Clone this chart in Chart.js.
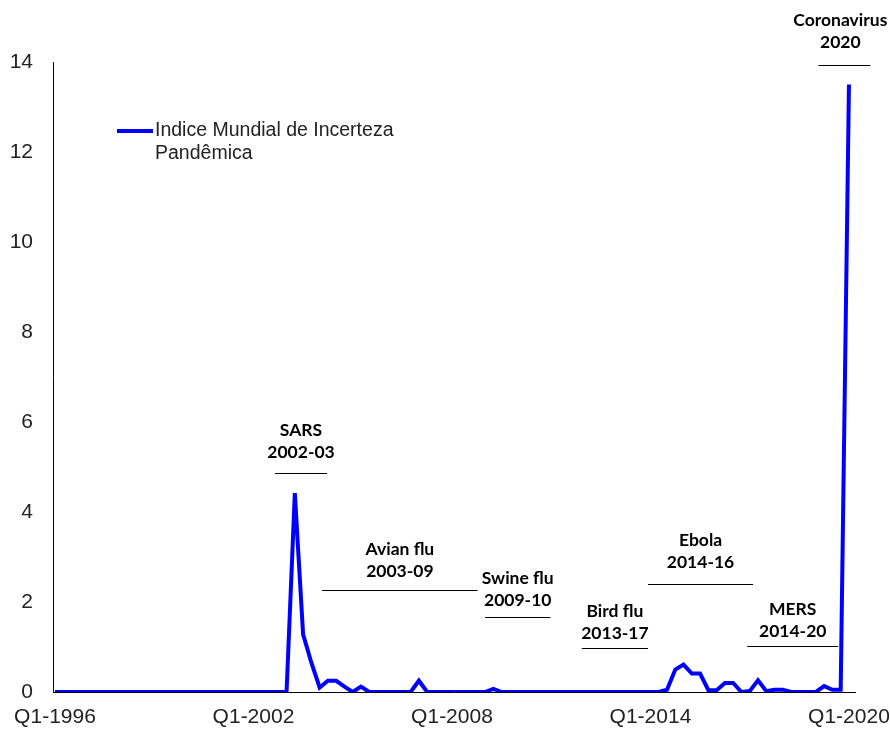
<!DOCTYPE html>
<html>
<head>
<meta charset="utf-8">
<script src="https://cdn.jsdelivr.net/npm/chart.js@4/dist/chart.umd.min.js"></script>
<style>
  html, body { margin: 0; padding: 0; background: #fff; }
  #wrap { width: 890px; height: 729px; }
</style>
</head>
<body>
<div id="wrap"><canvas id="myChart" width="890" height="729"></canvas></div>
<script>
// quarterly index, Q1-1996 .. Q1-2020
const firstYear = 1996;
const lastYear = 2020;
const seriesLabel = ['Indice Mundial de Incerteza', 'Pandêmica'];
const tickIndex = [0, 24, 48, 72, 96];
const tickLabels = ['Q1-1996', 'Q1-2002', 'Q1-2008', 'Q1-2014', 'Q1-2020'];
const yTicks = [0, 2, 4, 6, 8, 10, 12, 14];

const wpui = [
  0, 0, 0, 0, 0, 0, 0, 0, 0, 0, 0, 0, 0, 0, 0, 0,       // 1996-1999
  0, 0, 0, 0, 0, 0, 0, 0, 0, 0, 0, 0,                   // 2000-2002
  0, 4.42, 1.28, 0.65,                                  // 2003
  0.1, 0.25, 0.25, 0.12,                                // 2004
  0, 0.12, 0, 0,                                        // 2005
  0, 0, 0, 0,                                           // 2006
  0.25, 0, 0, 0,                                        // 2007
  0, 0, 0, 0,                                           // 2008
  0, 0.07, 0, 0,                                        // 2009
  0, 0, 0, 0, 0, 0, 0, 0, 0, 0, 0, 0,                   // 2010-2012
  0, 0, 0, 0,                                           // 2013
  0, 0, 0.05, 0.5,                                      // 2014
  0.61, 0.41, 0.41, 0.04,                               // 2015
  0.04, 0.2, 0.2, 0,                                    // 2016
  0.02, 0.26, 0.02, 0.05,                               // 2017
  0.05, 0, 0, 0,                                        // 2018
  0, 0.13, 0.05, 0.05,                                  // 2019
  13.5                                                  // 2020 Q1
];

// episode notes: text lines, x range of the rule (quarter index), y of rule and first text line (index units)
const episodes = [
  { text: ['SARS', '2002-03'], x0: 26.6, x1: 32.9, line: 4.87, top: 5.82 },
  { text: ['Avian flu', '2003-09'], x0: 32.3, x1: 51.1, line: 2.27, top: 3.18 },
  { text: ['Swine flu', '2009-10'], x0: 52.0, x1: 59.9, line: 1.67, top: 2.53 },
  { text: ['Bird flu', '2013-17'], x0: 63.7, x1: 71.7, line: 0.98, top: 1.8 },
  { text: ['Ebola', '2014-16'], x0: 71.7, x1: 84.4, line: 2.4, top: 3.36 },
  { text: ['MERS', '2014-20'], x0: 83.7, x1: 94.7, line: 1.02, top: 1.84 },
  { text: ['Coronavirus', '2020'], x0: 92.3, x1: 98.6, line: 13.93, top: 14.93, shift: -0.5 }
];

const quarters = [];
for (let y = firstYear; y <= lastYear; y++) {
  for (let q = 1; q <= 4; q++) quarters.push('Q' + q + '-' + y);
}
const points = wpui.map((v, i) => ({ x: i, y: v }));

const blue = '#0000ff';
const tickFont = { family: '"Liberation Sans", Arial', size: 21 };

const overlay = {
  id: 'overlay',
  afterDraw(chart) {
    const ctx = chart.ctx;
    const xs = chart.scales.x, ys = chart.scales.y;
    ctx.save();
    // episode notes
    ctx.textAlign = 'center';
    ctx.textBaseline = 'middle';
    ctx.fillStyle = '#000';
    ctx.font = 'bold 17.5px Lato';
    episodes.forEach(e => {
      const a = xs.getPixelForValue(e.x0), b = xs.getPixelForValue(e.x1);
      const ly = Math.round(ys.getPixelForValue(e.line)) + 0.5;
      const ty = ys.getPixelForValue(e.top);
      const cx = xs.getPixelForValue((e.x0 + e.x1) / 2 + (e.shift || 0));
      ctx.fillText(e.text[0], cx, ty);
      ctx.fillText(e.text[1], cx, ty + 22);
      ctx.strokeStyle = '#000';
      ctx.lineWidth = 1;
      ctx.beginPath();
      ctx.moveTo(a, ly);
      ctx.lineTo(b, ly);
      ctx.stroke();
    });
    // legend inside plot
    const lx = 117, lyy = 131;
    ctx.strokeStyle = blue;
    ctx.lineWidth = 4;
    ctx.beginPath();
    ctx.moveTo(lx, lyy);
    ctx.lineTo(lx + 36, lyy);
    ctx.stroke();
    ctx.textAlign = 'left';
    ctx.fillStyle = '#222';
    ctx.font = '19.5px "Liberation Sans", Arial';
    ctx.fillText(seriesLabel[0], lx + 38, lyy);
    ctx.fillText(seriesLabel[1], lx + 38, lyy + 23);
    ctx.restore();
  }
};

new Chart(document.getElementById('myChart').getContext('2d'), {
  type: 'line',
  data: {
    datasets: [{
      label: seriesLabel.join(' '),
      data: points,
      borderColor: blue,
      backgroundColor: blue,
      borderWidth: 4,
      pointRadius: 0,
      tension: 0,
      fill: false
    }]
  },
  options: {
    responsive: false,
    animation: false,
    layout: { padding: { left: 0, right: 35, top: 62, bottom: 0 } },
    plugins: { legend: { display: false }, tooltip: { enabled: false } },
    scales: {
      x: {
        type: 'linear',
        min: -0.24,
        max: 96.73,
        afterBuildTicks: s => { s.ticks = tickIndex.map(v => ({ value: v })); },
        afterFit: s => { s.height = 37; s.paddingLeft = 0; s.paddingRight = 0; },
        ticks: {
          autoSkip: false,
          maxRotation: 0,
          padding: 13,
          color: '#222',
          font: tickFont,
          callback: v => tickLabels[tickIndex.indexOf(v)]
        },
        grid: { display: false, drawTicks: false },
        border: { display: true, color: '#000', width: 1 }
      },
      y: {
        min: 0,
        max: 14,
        afterBuildTicks: s => { s.ticks = yTicks.map(v => ({ value: v })); },
        afterFit: s => { s.width = 53; s.paddingTop = 0; s.paddingBottom = 0; },
        ticks: {
          padding: 20,
          color: '#222',
          font: tickFont
        },
        grid: { display: false, drawTicks: false },
        border: { display: true, color: '#000', width: 1 }
      }
    }
  },
  plugins: [overlay]
});
</script>
</body>
</html>
